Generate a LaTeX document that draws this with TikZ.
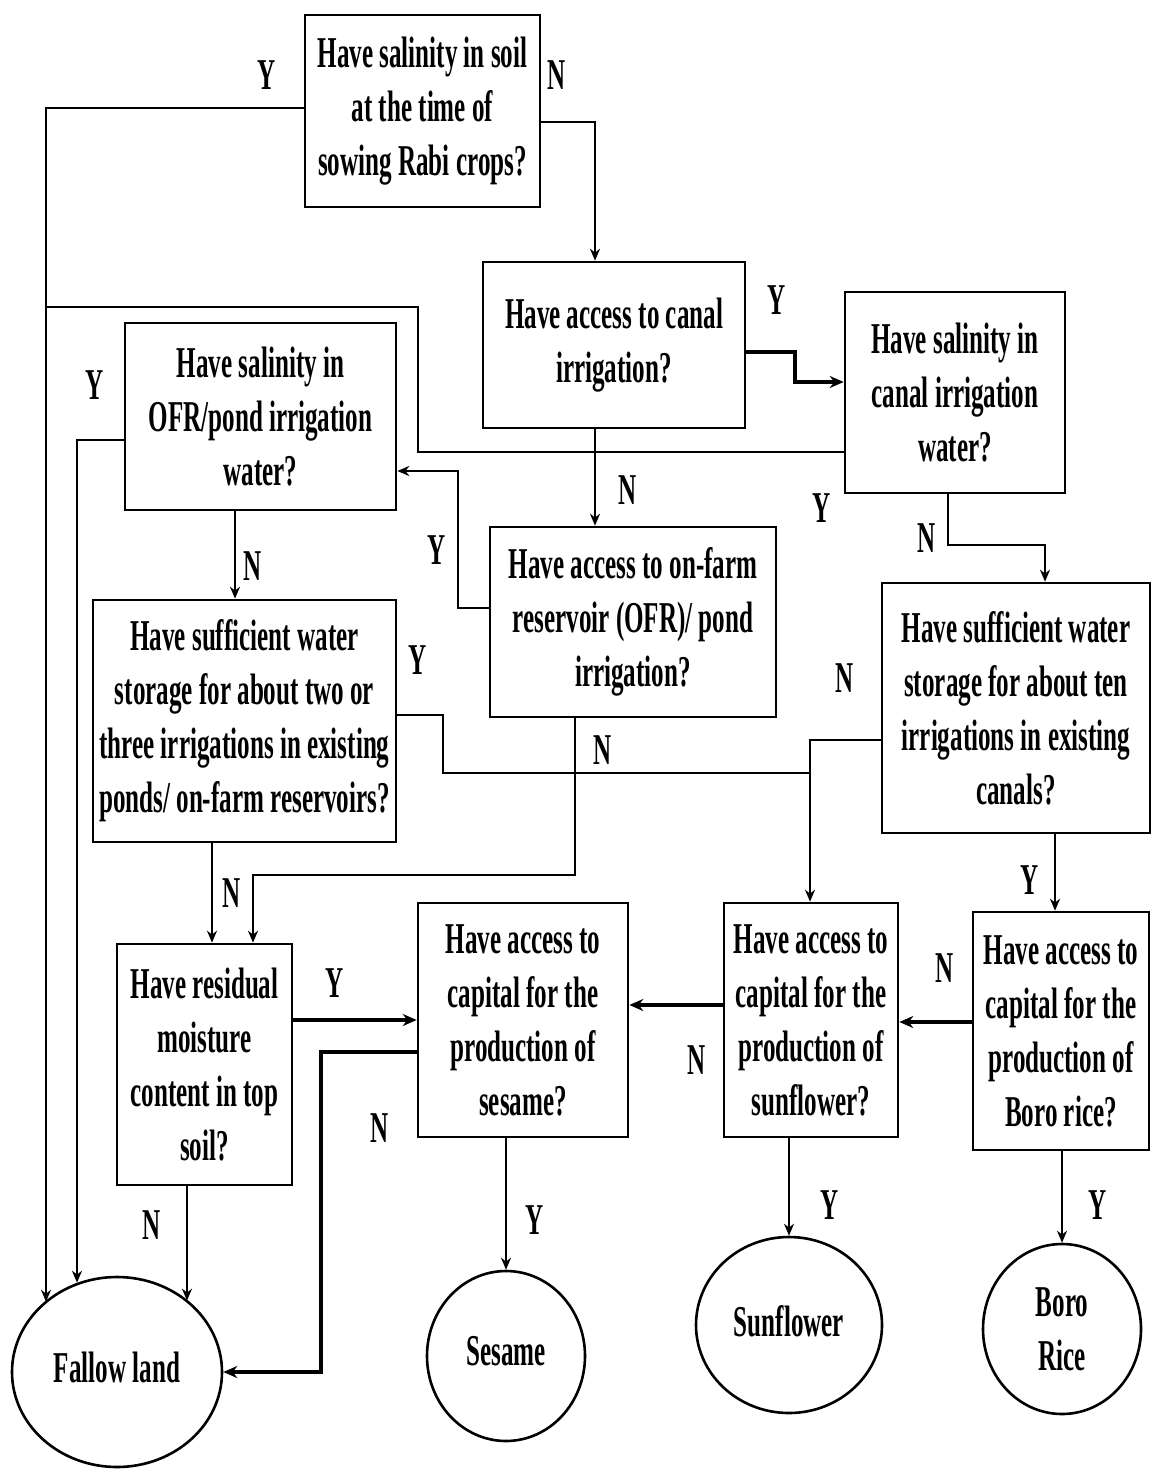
\documentclass[tikz,border=0pt]{standalone}
\usepackage{fontspec}
\newfontfamily\condserif[FakeStretch=0.57]{Liberation Serif}
\usetikzlibrary{arrows.meta,shapes.geometric}

\begin{document}
\begin{tikzpicture}[x=0.5pt,y=-0.5pt,
  every node/.style={font=\condserif\bfseries\fontsize{22}{27}\selectfont},
  qbox/.style={draw,line width=1.3pt,rectangle,align=center,inner sep=0pt},
  endpt/.style={draw,line width=1.3pt,ellipse,align=center,inner sep=0pt},
  yn/.style={inner sep=0pt},
  link/.style={line width=1pt},
  arr/.style={line width=1pt,-{Stealth[length=6pt,width=5pt]}},
  boldarr/.style={line width=1.6pt,-{Stealth[length=7pt,width=6pt]}},
]
\useasboundingbox (0,0) rectangle (1151,1470);

% decision boxes
\node[qbox,minimum width=117.5pt,minimum height=96pt] (b1) at (422.5,111)
  {Have salinity in soil\\at the time of\\sowing Rabi crops?};
\node[qbox,minimum width=131pt,minimum height=83pt] (b2) at (614,345)
  {Have access to canal\\irrigation?};
\node[qbox,minimum width=110pt,minimum height=100.5pt] (b3) at (955,392.5)
  {Have salinity in\\canal irrigation\\water?};
\node[qbox,minimum width=135.5pt,minimum height=93.5pt] (b5) at (260.5,416.5)
  {Have salinity in\\OFR/pond irrigation\\water?};
\node[qbox,minimum width=143pt,minimum height=95pt] (b4) at (633,622)
  {Have access to on-farm\\reservoir (OFR)/ pond\\irrigation?};
\node[qbox,minimum width=151.5pt,minimum height=121pt] (b6) at (244.5,721)
  {Have sufficient water\\storage for about two or\\three irrigations in existing\\ponds/ on-farm reservoirs?};
\node[qbox,minimum width=134pt,minimum height=125pt] (b8) at (1016,708)
  {Have sufficient water\\storage for about ten\\irrigations in existing\\canals?};
\node[qbox,minimum width=87.5pt,minimum height=120.5pt] (b7) at (204.5,1064.5)
  {Have residual\\moisture\\content in top\\soil?};
\node[qbox,minimum width=105pt,minimum height=117pt] (b9) at (523,1020)
  {Have access to\\capital for the\\production of\\sesame?};
\node[qbox,minimum width=87pt,minimum height=117pt] (b10) at (811,1020)
  {Have access to\\capital for the\\production of\\sunflower?};
\node[qbox,minimum width=88pt,minimum height=119pt] (b11) at (1061,1031)
  {Have access to\\capital for the\\production of\\Boro rice?};

% outcomes
\node[endpt,minimum width=105pt,minimum height=95pt] (fallow) at (117,1372)
  {\raisebox{4.5pt}{Fallow land}};
\node[endpt,minimum width=79pt,minimum height=85pt] (sesame) at (506,1356)
  {\raisebox{5pt}{Sesame}};
\node[endpt,minimum width=93pt,minimum height=88pt] (sunflower) at (789,1325)
  {\raisebox{4.5pt}{Sunflower}};
\node[endpt,minimum width=79pt,minimum height=85pt] (boro) at (1062,1329)
  {Boro\\Rice};

% connectors
\draw[arr] (b1.west |- 0,108) -- (46,108) -- (fallow.136 -| 46,0);
\draw[arr] (b1.east |- 0,122) -| (b2.north -| 595,0);
\draw[boldarr] (b2.east |- 0,352) -- (795,352) |- (b3.west |- 0,382);
\draw[arr] (b2.south -| 595,0) -- (b4.north -| 595,0);
\draw[link] (b3.west |- 0,452) -| (418,307) -- (46,307);
\draw[arr] (b3.south -| 948,0) |- (1045,545) -- (b8.north -| 1045,0);
\draw[arr] (b4.west |- 0,608) -| (458,471) -- (b5.east |- 0,471);
\draw[arr] (b4.south -| 575,0) |- (253,875) -- (b7.north -| 253,0);
\draw[arr] (b5.west |- 0,440) -| (fallow.114 -| 77,0);
\draw[arr] (b5.south -| 235,0) -- (b6.north -| 235,0);
\draw[link] (b6.east |- 0,715) -| (443,773) -- (810,773);
\draw[arr] (b6.south -| 212,0) -- (b7.north -| 212,0);
\draw[arr] (b8.west |- 0,740) -| (b10.north -| 810,0);
\draw[arr] (b8.south -| 1055,0) -- (b11.north -| 1055,0);
\draw[boldarr] (b7.east |- 0,1020) -- (b9.west |- 0,1020);
\draw[arr] (b7.south -| 187,0) -- (fallow.45 -| 187,0);
\draw[boldarr] (b9.west |- 0,1052) -- (321,1052) |- (fallow.east);
\draw[arr] (b9.south -| sesame.north) -- (sesame.north);
\draw[boldarr] (b10.west |- 0,1005) -- (b9.east |- 0,1005);
\draw[arr] (b10.south -| sunflower.north) -- (sunflower.north);
\draw[boldarr] (b11.west |- 0,1022) -- (b10.east |- 0,1022);
\draw[arr] (b11.south -| boro.north) -- (boro.north);

% answer labels
\node[yn] (y1) at (267,75) {Y};
\node[yn] (n1) at (557,75) {N};
\node[yn] (y2) at (777,300) {Y};
\node[yn] (y3) at (95,385) {Y};
\node[yn] (n2) at (628,490) {N};
\node[yn] (y4) at (822,508) {Y};
\node[yn] (n3) at (927,538) {N};
\node[yn] (y5) at (437,550) {Y};
\node[yn] (n4) at (253,566) {N};
\node[yn] (y6) at (418,660) {Y};
\node[yn] (n5) at (845,678) {N};
\node[yn] (n6) at (603,750) {N};
\node[yn] (y7) at (1030,880) {Y};
\node[yn] (n7) at (232,893) {N};
\node[yn] (n8) at (945,968) {N};
\node[yn] (y8) at (335,983) {Y};
\node[yn] (n9) at (697,1060) {N};
\node[yn] (n10) at (380,1128) {N};
\node[yn] (y9) at (830,1205) {Y};
\node[yn] (y10) at (1098,1205) {Y};
\node[yn] (n11) at (152,1225) {N};
\node[yn] (y11) at (535,1220) {Y};
\end{tikzpicture}
\end{document}
